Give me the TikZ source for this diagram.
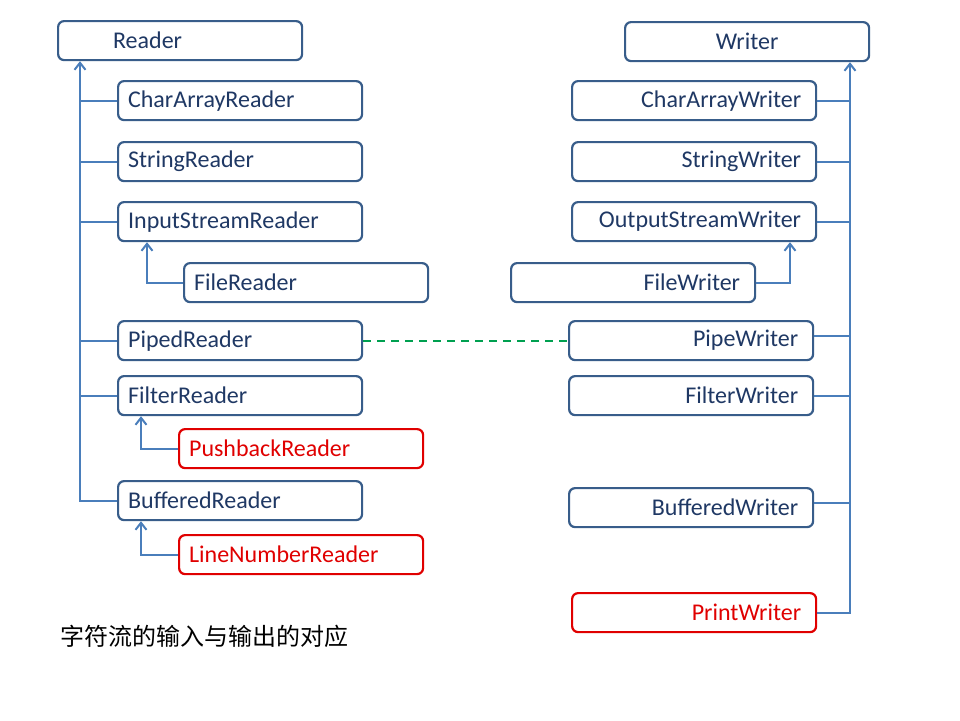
\documentclass[tikz,border=0pt]{standalone}
\usepackage{fontspec}
\setmainfont{Carlito}
\newfontfamily\cjk{Noto Sans CJK SC}
\usetikzlibrary{arrows.meta,calc}
\definecolor{bordc}{HTML}{385D8A}
\definecolor{txtc}{HTML}{1F3864}
\definecolor{linec}{HTML}{4A7EBB}
\definecolor{redc}{HTML}{E00000}
\definecolor{greenc}{HTML}{00A050}
\begin{document}
\begin{tikzpicture}[x=1pt,y=-1pt,
  box/.style={draw=bordc,line width=2.2pt,rounded corners=6pt,fill=white,
    minimum width=244pt,minimum height=39pt,anchor=north west,text=txtc,
    font=\fontsize{24}{27}\selectfont,inner ysep=0pt},
  lbox/.style={box,inner xsep=10pt,text width=224pt,align=left},
  rbox/.style={box,inner xsep=15pt,text width=214pt,align=right},
  redbox/.style={draw=redc,text=redc},
  conn/.style={draw=linec,line width=2pt},
  arr/.style={conn,-{Straight Barb[length=7pt,width=11pt,line width=2pt]}}]
\useasboundingbox (0,0) rectangle (960,720);
% left
\node[box,inner xsep=55pt,text width=134pt,align=left] (reader) at (57,20) {Reader};
\node[lbox] (car) at (117,80) {CharArrayReader};
\node[lbox] (sr) at (117,141) {StringReader};
\node[lbox] (isr) at (117,201) {InputStreamReader};
\node[lbox] (fr) at (183,262) {FileReader};
\node[lbox] (pr) at (117,320) {PipedReader};
\node[lbox] (filr) at (117,375) {FilterReader};
\node[lbox,redbox] (pbr) at (178,428) {PushbackReader};
\node[lbox] (br) at (117,480) {BufferedReader};
\node[lbox,redbox] (lnr) at (178,534) {LineNumberReader};
% right
\node[box,align=center] (writer) at (624,21) {Writer};
\node[rbox] (caw) at (571,80) {CharArrayWriter};
\node[rbox] (sw) at (571,141) {StringWriter};
\node[rbox] (osw) at (571,201) {OutputStreamWriter};
\node[rbox] (fw) at (510,262) {FileWriter};
\node[rbox] (pw) at (568,320) {PipeWriter};
\node[rbox] (filw) at (568,375) {FilterWriter};
\node[rbox] (bw) at (568,487) {BufferedWriter};
\node[rbox,redbox] (prw) at (571,592) {PrintWriter};
% trunks
\coordinate (lt) at (80,0);
\coordinate (rt) at (850,0);
\coordinate (fa) at (147,0);
\coordinate (pa) at (141,0);
\coordinate (fwa) at (790,0);
\draw[arr] (br.west) -| (lt |- reader.south);
\foreach \n in {car,sr,isr,pr,filr} \draw[conn] (\n.west) -- (\n.west -| lt);
\draw[arr] (fr.west) -| (fa |- isr.south);
\draw[arr] (pbr.west) -| (pa |- filr.south);
\draw[arr] (lnr.west) -| (pa |- br.south);
\draw[arr] (prw.east) -| (rt |- writer.south);
\foreach \n in {caw,sw,osw,filw} \draw[conn] (\n.east) -- (\n.east -| rt);
\draw[conn] ([yshift=5pt]pw.east) -- ([yshift=5pt]pw.east -| rt);
\draw[conn] ([yshift=5pt]bw.east) -- ([yshift=5pt]bw.east -| rt);
\draw[arr] (fw.east) -| (fwa |- osw.south);
\draw[draw=greenc,line width=2pt,dash pattern=on 8pt off 6pt] (pr.east) -- (pw.west);
\node[anchor=west,font={\cjk\fontsize{24}{27}\selectfont},inner sep=0pt] (cap) at (60,636) {字符流的输入与输出的对应};
\end{tikzpicture}
\end{document}
